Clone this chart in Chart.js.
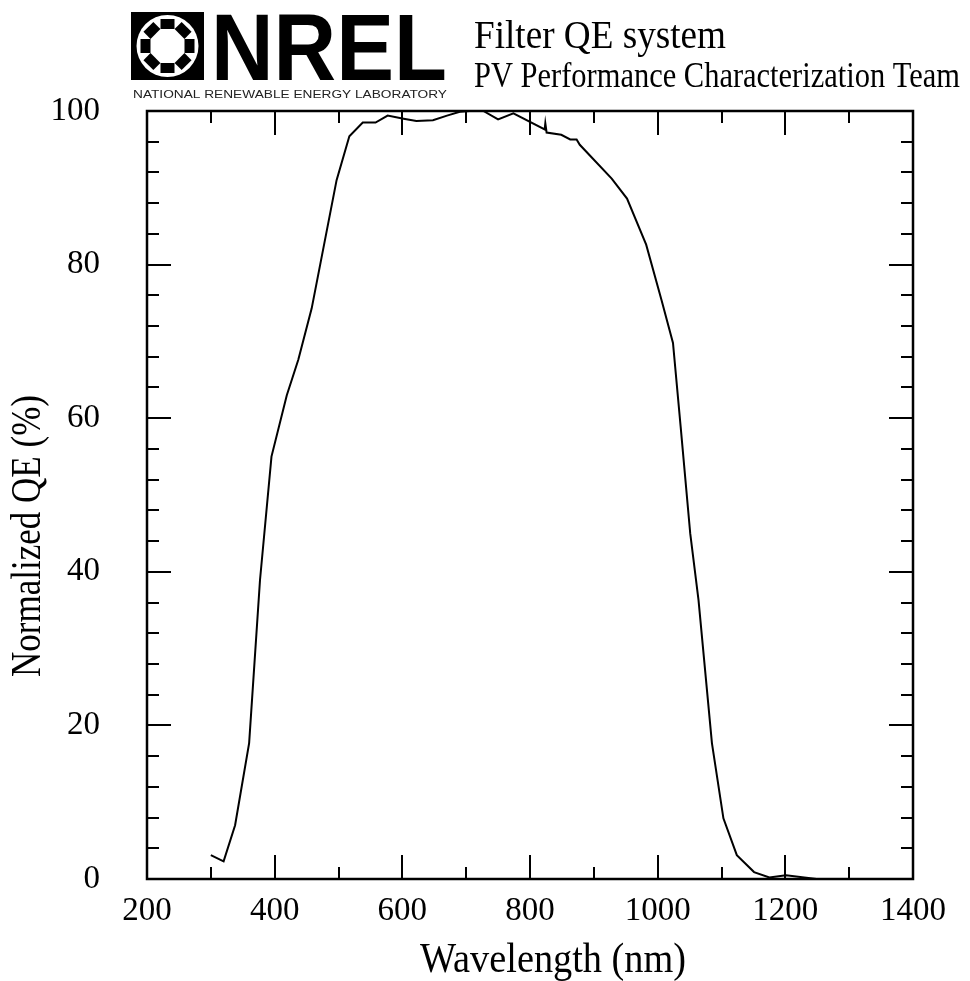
<!DOCTYPE html>
<html>
<head>
    <title>Filter QE system</title>
    <script src="https://cdn.jsdelivr.net/npm/chart.js"></script>
    <style>
        body { margin: 0; background: #fff; }
        #wrap { width: 970px; height: 981px; position: relative; }
    </style>
</head>
<body>
    <div id="wrap">
        <canvas id="qeChart"></canvas>
    </div>

    <script>
        // Normalized QE
        var wavelengths = [300, 320, 338, 360, 377, 395, 419, 437, 458, 497, 517, 538, 558, 577, 602, 622, 648, 670, 690, 705,
                           727, 750, 774, 823, 824, 826, 849, 863, 873, 878, 928, 952, 982, 1006, 1024, 1036, 1051, 1064, 1085,
                           1103, 1124, 1151, 1175, 1201, 1249];
        var qeValues = [3.1, 2.3, 7.0, 17.7, 38.9, 55.0, 63.0, 67.6, 74.3, 91.0, 96.7, 98.5, 98.5, 99.4, 99.0, 98.7, 98.8, 99.4, 99.9, 100,
                        100, 98.9, 99.7, 97.6, 98.4, 97.2, 96.9, 96.3, 96.3, 95.6, 91.2, 88.6, 82.6, 75.4, 69.8, 58.9, 45.0, 36.3, 17.7,
                        7.9, 3.1, 0.9, 0.2, 0.5, 0];
        var xTicks = [200, 400, 600, 800, 1000, 1200, 1400];
        var yTicks = [0, 20, 40, 60, 80, 100];

        var points = [];
        for (var i = 0; i < wavelengths.length; i++) {
            points.push({ x: wavelengths[i], y: qeValues[i] });
        }

        var serif = '"Liberation Serif", "Times New Roman", serif';
        var sans = '"Liberation Sans", Arial, sans-serif';

        // draw text squeezed to a given width (the original uses a condensed face)
        function fitText(ctx, text, x, y, font, width, rot) {
            ctx.save();
            ctx.font = font;
            var w = ctx.measureText(text).width;
            ctx.translate(x, y);
            if (rot) ctx.rotate(rot);
            ctx.scale(width / w, 1);
            ctx.fillText(text, 0, 0);
            ctx.restore();
        }

        var headerPlugin = {
            id: 'header',
            afterDraw: function (chart) {
                var ctx = chart.ctx;
                ctx.save();
                ctx.fillStyle = '#000';
                ctx.textBaseline = 'alphabetic';
                ctx.textAlign = 'left';

                // logo mark
                ctx.fillRect(131, 12, 73, 68);
                ctx.fillStyle = '#fff';
                ctx.beginPath();
                ctx.arc(167.5, 46, 31, 0, Math.PI * 2);
                ctx.fill();
                ctx.fillStyle = '#000';
                for (var k = 0; k < 8; k++) {
                    var a = k * Math.PI / 4;
                    ctx.save();
                    ctx.translate(167.5 + Math.cos(a) * 22, 46 + Math.sin(a) * 22);
                    ctx.rotate(a);
                    ctx.fillRect(-5, -7, 10, 14);
                    ctx.restore();
                }

                fitText(ctx, 'NREL', 211, 80, 'bold 94px ' + sans, 236);
                ctx.fillStyle = '#222';
                fitText(ctx, 'NATIONAL RENEWABLE ENERGY LABORATORY', 133, 98, '11px ' + sans, 314);

                ctx.fillStyle = '#000';
                fitText(ctx, 'Filter QE system', 474, 48, '40px ' + serif, 252);
                fitText(ctx, 'PV Performance Characterization Team', 474, 87, '36px ' + serif, 486);

                // axis titles
                fitText(ctx, 'Wavelength (nm)', 420, 972, '43px ' + serif, 266);
                fitText(ctx, 'Normalized QE (%)', 40, 677, '42px ' + serif, 282, -Math.PI / 2);
                ctx.restore();
            }
        };

        // inward tick marks on all four sides plus the closing frame
        var frameTicks = {
            id: 'frameTicks',
            afterDraw: function (chart) {
                var ctx = chart.ctx;
                var a = chart.chartArea;
                var xs = chart.scales.x, ys = chart.scales.y;
                ctx.save();
                ctx.strokeStyle = '#000';
                ctx.lineWidth = 2;
                ctx.beginPath();
                for (var v = 200; v <= 1400; v += 100) {
                    var px = Math.round(xs.getPixelForValue(v));
                    var len = v % 200 === 0 ? 24 : 12;
                    ctx.moveTo(px, a.bottom); ctx.lineTo(px, a.bottom - len);
                    ctx.moveTo(px, a.top); ctx.lineTo(px, a.top + len);
                }
                for (var q = 0; q <= 100; q += 4) {
                    var py = Math.round(ys.getPixelForValue(q));
                    var l2 = q % 20 === 0 ? 24 : 12;
                    ctx.moveTo(a.left, py); ctx.lineTo(a.left + l2, py);
                    ctx.moveTo(a.right, py); ctx.lineTo(a.right - l2, py);
                }
                ctx.stroke();
                ctx.lineWidth = 2.5;
                ctx.strokeRect(a.left, a.top, a.right - a.left, a.bottom - a.top);
                ctx.restore();
            }
        };

        var ctx = document.getElementById('qeChart').getContext('2d');
        var myChart = new Chart(ctx, {
            type: 'line',
            data: {
                datasets: [{
                    label: 'Normalized QE',
                    data: points,
                    borderColor: '#000',
                    borderWidth: 2,
                    pointRadius: 0,
                    tension: 0,
                    fill: false
                }]
            },
            options: {
                responsive: true,
                maintainAspectRatio: false,
                animation: false,
                layout: { padding: { top: 111, right: 57, left: 0, bottom: 0 } },
                plugins: {
                    legend: { display: false },
                    tooltip: { enabled: false }
                },
                scales: {
                    x: {
                        type: 'linear',
                        min: 200,
                        max: 1400,
                        afterBuildTicks: function (s) {
                            s.ticks = xTicks.map(function (v) { return { value: v }; });
                        },
                        afterFit: function (s) { s.height = 102; },
                        grid: { display: false, drawTicks: false },
                        border: { display: false },
                        ticks: {
                            color: '#000',
                            padding: 13,
                            maxRotation: 0,
                            font: { family: serif, size: 33 },
                            callback: function (v) { return String(v); }
                        }
                    },
                    y: {
                        min: 0,
                        max: 100,
                        afterBuildTicks: function (s) {
                            s.ticks = yTicks.map(function (v) { return { value: v }; });
                        },
                        afterFit: function (s) { s.width = 147; },
                        grid: { display: false, drawTicks: false },
                        border: { display: false },
                        ticks: {
                            color: '#000',
                            padding: 47,
                            font: { family: serif, size: 33 },
                            callback: function (v) { return String(v); }
                        }
                    }
                }
            },
            plugins: [headerPlugin, frameTicks]
        });
    </script>
</body>
</html>
